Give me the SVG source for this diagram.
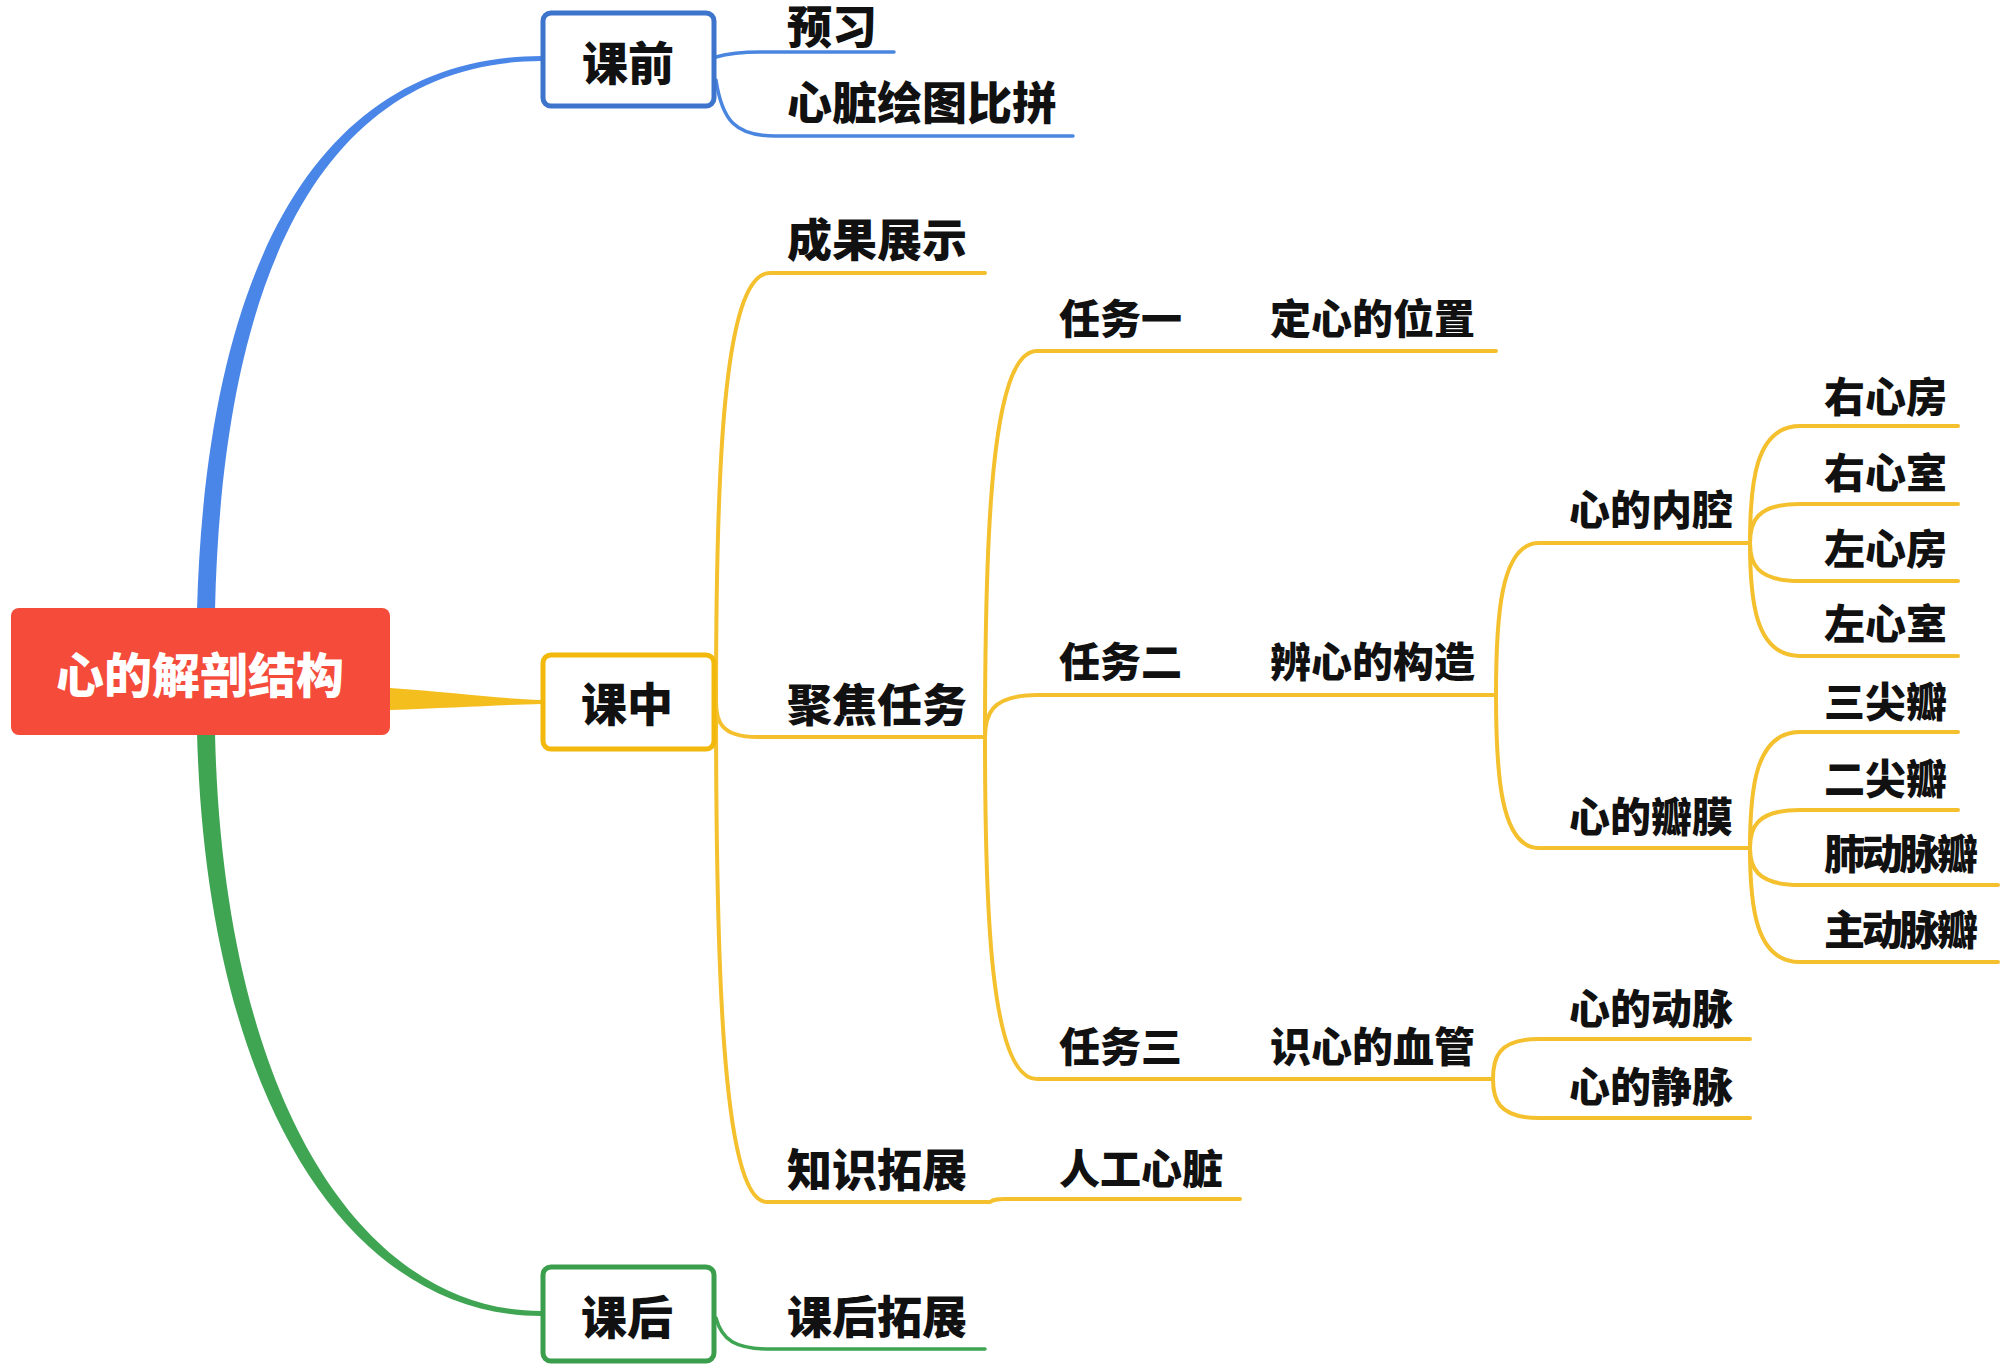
<svg xmlns="http://www.w3.org/2000/svg" width="2000" height="1369" viewBox="0 0 2000 1369">
<style>
text{font-family:"Noto Sans CJK SC","Noto Sans",sans-serif;font-weight:900;fill:#111}
.l2{font-size:45px}
.l3{font-size:41px}
.bx{font-size:46px;text-anchor:middle}
.root{font-size:48px;fill:#fff;text-anchor:middle}
.y{fill:none;stroke:#F4C02E;stroke-width:4;stroke-linecap:round}
.b{fill:none;stroke:#4A86E0;stroke-width:3.5;stroke-linecap:round}
.g{fill:none;stroke:#3FA553;stroke-width:3.5;stroke-linecap:round}
</style>
<rect width="2000" height="1369" fill="#fff"/>
<g id="connectors">
<path d="M197 610 C207 250 327 57 541 56 L541 61 C333 62 223 255 215 610 Z" fill="#4A86E8"/>
<path d="M197 733 C207 1105 352 1316 541 1316 L541 1311 C362 1311 223 1100 215 733 Z" fill="#3FA553"/>
<path d="M390 688 C450 692 500 699 541 700 L541 704 C500 705 450 708 390 710 Z" fill="#F4BE1F"/>
<path class="b" d="M716 57 C730 53 740 52 760 52 L894 52"/>
<path class="b" d="M716 80 C722 120 735 136 775 136 L1073 136"/>
<path class="g" d="M716 1318 C722 1340 735 1349 770 1349 L985 1349"/>
<path class="y" d="M716 702 C716 480 722 273 770 273 L985 273"/>
<path class="y" d="M716 702 C716 720 720 737 757 737 L985 737"/>
<path class="y" d="M716 702 C716 952 721 1202 767 1202 L990 1202 C994 1199 998 1199 1004 1199 L1240 1199"/>
<path class="y" d="M985 737 C985 544 990 351 1037 351 L1496 351"/>
<path class="y" d="M985 737 C985 716 990 695 1037 695 L1496 695"/>
<path class="y" d="M985 737 C985 908 990 1079 1037 1079 L1493 1079"/>
<path class="y" d="M1496 695 C1496 619 1500 543 1539 543 L1750 543"/>
<path class="y" d="M1496 695 C1496 771 1500 848 1539 848 L1750 848"/>
<path class="y" d="M1493 1079 C1493 1059 1497 1039 1539 1039 L1750 1039"/>
<path class="y" d="M1493 1079 C1493 1098 1497 1118 1539 1118 L1750 1118"/>
<path class="y" d="M1750 543 C1750 484 1755 426 1800 426 L1958 426"/>
<path class="y" d="M1750 543 C1750 523 1755 504 1800 504 L1958 504"/>
<path class="y" d="M1750 543 C1750 562 1755 581 1800 581 L1958 581"/>
<path class="y" d="M1750 543 C1750 600 1755 656 1800 656 L1958 656"/>
<path class="y" d="M1750 848 C1750 790 1755 732 1800 732 L1958 732"/>
<path class="y" d="M1750 848 C1750 829 1755 810 1800 810 L1958 810"/>
<path class="y" d="M1750 848 C1750 866 1755 885 1800 885 L1998 885"/>
<path class="y" d="M1750 848 C1750 905 1755 962 1800 962 L1998 962"/>
</g>
<g id="root"><rect x="11" y="608" width="379" height="127" rx="8" fill="#F44B3B"/><text class="root" x="200" y="693">心的解剖结构</text></g>
<g id="kq"><rect x="543" y="13" width="171" height="93" rx="8" fill="#fff" stroke="#3D74CC" stroke-width="5"/><text class="bx" x="628" y="80">课前</text></g>
<g id="kz"><rect x="543" y="655" width="171" height="94" rx="8" fill="#fff" stroke="#F2B90C" stroke-width="5"/><text class="bx" x="627" y="721">课中</text></g>
<g id="kh"><rect x="543" y="1267" width="171" height="94" rx="8" fill="#fff" stroke="#3A9E4C" stroke-width="5"/><text class="bx" x="627" y="1334">课后</text></g>
<g id="yx"><text class="l2" x="787" y="44">预习</text></g>
<g id="xzht"><text class="l2" x="787" y="120">心脏绘图比拼</text></g>
<g id="cgzs"><text class="l2" x="787" y="257">成果展示</text></g>
<g id="jjrw"><text class="l2" x="787" y="722">聚焦任务</text></g>
<g id="zstz"><text class="l2" x="787" y="1187">知识拓展</text></g>
<g id="khtz"><text class="l2" x="787" y="1334">课后拓展</text></g>
<g id="rgxz"><text class="l3" x="1059" y="1184">人工心脏</text></g>
<g id="rw1"><text class="l3" x="1059" y="334">任务一</text></g>
<g id="dxdwz"><text class="l3" x="1270" y="334">定心的位置</text></g>
<g id="rw2"><text class="l3" x="1059" y="677">任务二</text></g>
<g id="bxdgz"><text class="l3" x="1270" y="677">辨心的构造</text></g>
<g id="rw3"><text class="l3" x="1059" y="1062">任务三</text></g>
<g id="sxdxg"><text class="l3" x="1270" y="1062">识心的血管</text></g>
<g id="xdnq"><text class="l3" x="1569" y="525">心的内腔</text></g>
<g id="xdbm"><text class="l3" x="1569" y="832">心的瓣膜</text></g>
<g id="xddm"><text class="l3" x="1569" y="1024">心的动脉</text></g>
<g id="xdjm"><text class="l3" x="1569" y="1102">心的静脉</text></g>
<g id="yxf"><text class="l3" x="1824" y="412">右心房</text></g>
<g id="yxs"><text class="l3" x="1824" y="488">右心室</text></g>
<g id="zxf"><text class="l3" x="1824" y="564">左心房</text></g>
<g id="zxs"><text class="l3" x="1824" y="639">左心室</text></g>
<g id="sjb"><text class="l3" x="1824" y="717">三尖瓣</text></g>
<g id="ejb"><text class="l3" x="1824" y="794">二尖瓣</text></g>
<g id="fdmb"><text class="l3" x="1824" y="869" textLength="154">肺动脉瓣</text></g>
<g id="zdmb"><text class="l3" x="1824" y="945" textLength="154">主动脉瓣</text></g>
</svg>
